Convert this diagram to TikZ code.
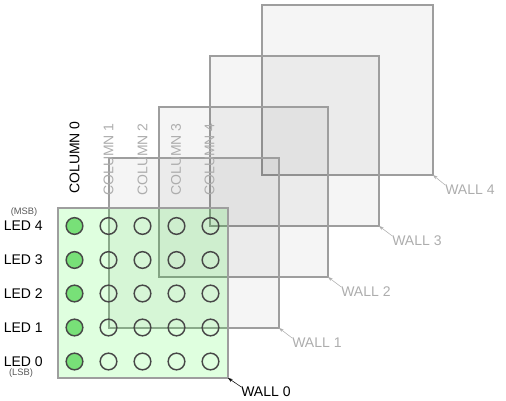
\documentclass[tikz,border=0pt]{standalone}
\usepackage{fontspec}
\setmainfont{Liberation Sans}
\usetikzlibrary{arrows.meta}
\definecolor{ledgreen}{RGB}{120,224,120}
\definecolor{wallgreen}{RGB}{0,255,0}
\tikzset{
  wall/.style={fill=black,fill opacity=0.04,draw=black!38,line width=1.1pt},
  wallzero/.style={fill=wallgreen,fill opacity=0.125,draw=black!38,line width=1.1pt},
  led/.style={circle,draw=black!72,line width=1.1pt,minimum size=12.5pt,inner sep=0pt},
  ledon/.style={led,fill=ledgreen},
  lbl/.style={font=\fontsize{10.5pt}{10.5pt}\selectfont,inner sep=0pt},
  tag/.style={font=\fontsize{7pt}{7pt}\selectfont,inner sep=0pt,text=black!65},
  dim/.style={text=black!32},
  leader/.style={line width=0.4pt,-{Stealth[length=3.5pt,width=2.5pt]}},
  dimleader/.style={leader,draw=black!32},
}
\begin{document}
\begin{tikzpicture}[x=0.75pt,y=-0.75pt]
  \useasboundingbox (0,0) rectangle (506,400);
  % walls, back to front
  \draw[wall] (262,5) rectangle (433,175);
  \draw[wall] (210,56) rectangle (379,226);
  \draw[wall] (159,107) rectangle (328,277);
  \draw[wall] (109,158) rectangle (279,328);
  \draw[wallzero] (58,208) rectangle (228,378);
  \coordinate (corner0) at (228,378);
  \coordinate (corner1) at (279,328);
  \coordinate (corner2) at (328,277);
  \coordinate (corner3) at (379,226);
  \coordinate (corner4) at (433,175);
  % columns
  \node[lbl,rotate=90,anchor=west] (col0) at (74.5,194) {COLUMN 0};
  \node[lbl,dim,rotate=90,anchor=west] (col1) at (108.5,196) {COLUMN 1};
  \node[lbl,dim,rotate=90,anchor=west] (col2) at (142.5,196) {COLUMN 2};
  \node[lbl,dim,rotate=90,anchor=west] (col3) at (176,196) {COLUMN 3};
  \node[lbl,dim,rotate=90,anchor=west] (col4) at (209.5,196) {COLUMN 4};
  % rows
  \node[tag,anchor=center] (msb) at (24,212) {(MSB)};
  \node[lbl,anchor=west] (row4) at (3.5,226) {LED 4};
  \node[lbl,anchor=west] (row3) at (3.5,260) {LED 3};
  \node[lbl,anchor=west] (row2) at (3.5,294) {LED 2};
  \node[lbl,anchor=west] (row1) at (3.5,328) {LED 1};
  \node[lbl,anchor=west] (row0) at (3.5,362) {LED 0};
  \node[tag,anchor=center] (lsb) at (21,373) {(LSB)};
  % leds
  \node[ledon] (led04) at (74.5,226) {};
  \node[ledon] (led03) at (74.5,260) {};
  \node[ledon] (led02) at (74.5,293.5) {};
  \node[ledon] (led01) at (74.5,327.5) {};
  \node[ledon] (led00) at (74.5,361.5) {};
  \node[led] (led14) at (108.5,226) {};
  \node[led] (led13) at (108.5,260) {};
  \node[led] (led12) at (108.5,293.5) {};
  \node[led] (led11) at (108.5,327.5) {};
  \node[led] (led10) at (108.5,361.5) {};
  \node[led] (led24) at (142.5,226) {};
  \node[led] (led23) at (142.5,260) {};
  \node[led] (led22) at (142.5,293.5) {};
  \node[led] (led21) at (142.5,327.5) {};
  \node[led] (led20) at (142.5,361.5) {};
  \node[led] (led34) at (176.5,226) {};
  \node[led] (led33) at (176.5,260) {};
  \node[led] (led32) at (176.5,293.5) {};
  \node[led] (led31) at (176.5,327.5) {};
  \node[led] (led30) at (176.5,361.5) {};
  \node[led] (led44) at (210.5,226) {};
  \node[led] (led43) at (210.5,260) {};
  \node[led] (led42) at (210.5,293.5) {};
  \node[led] (led41) at (210.5,327.5) {};
  \node[led] (led40) at (210.5,361.5) {};
  % wall labels
  \node[lbl,anchor=west] (lab0) at (241,392) {WALL 0};
  \node[lbl,dim,anchor=west] (lab1) at (292,343) {WALL 1};
  \node[lbl,dim,anchor=west] (lab2) at (341,292) {WALL 2};
  \node[lbl,dim,anchor=west] (lab3) at (392,241) {WALL 3};
  \node[lbl,dim,anchor=west] (lab4) at (445,190) {WALL 4};
  \draw[leader] (lab0.north west) -- (corner0);
  \draw[dimleader] (lab1.north west) -- (corner1);
  \draw[dimleader] (lab2.north west) -- (corner2);
  \draw[dimleader] (lab3.north west) -- (corner3);
  \draw[dimleader] (lab4.north west) -- (corner4);
\end{tikzpicture}
\end{document}
